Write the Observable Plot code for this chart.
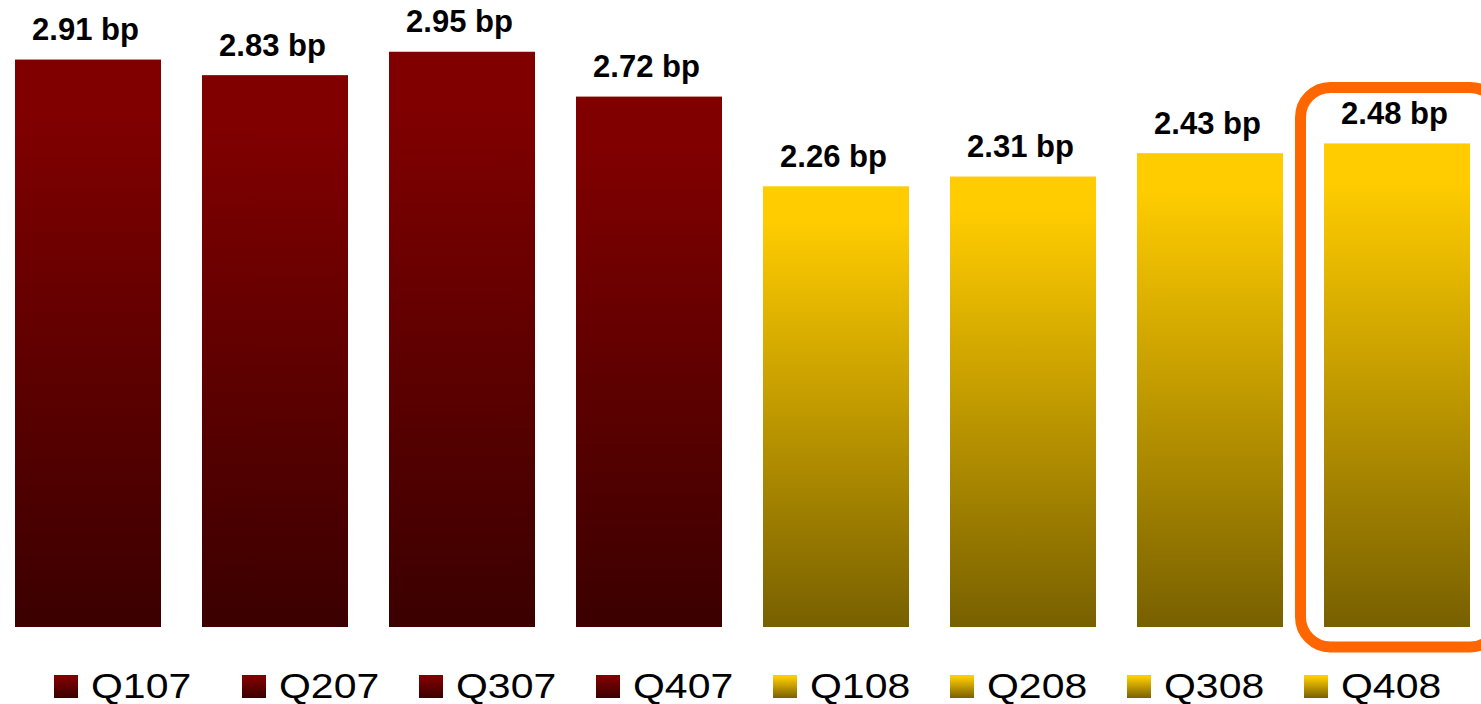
<!DOCTYPE html>
<html>
<head>
<meta charset="utf-8">
<script src="https://cdn.jsdelivr.net/npm/d3@7"></script>
<script src="https://cdn.jsdelivr.net/npm/@observablehq/plot@0.6"></script>
<style>
  html, body { margin: 0; padding: 0; background: #fff; overflow: hidden; }
  body { font-family: "Liberation Sans", Arial, sans-serif; }
  #wrap { position: relative; width: 1481px; height: 704px; }
  #chart svg { overflow: visible; display: block; }
  #legend { position: absolute; left: 54px; top: 668px; display: flex; align-items: center; }
  .item { display: flex; align-items: center; width: 177px; }
  .item:first-child { width: 188px; }
  .sw { width: 24px; height: 23px; margin-right: 13px; flex: none; }
  .lbl { font-size: 35px; line-height: 36px; color: #000; display: inline-block; transform: scaleX(1.17); transform-origin: left center; }
</style>
</head>
<body>
<div id="wrap">
  <div id="chart"></div>
  <div id="legend"></div>
</div>
<script>
// ---- data ----
const quarters = ["Q107", "Q207", "Q307", "Q407", "Q108", "Q208", "Q308", "Q408"];
const values   = [2.91, 2.83, 2.95, 2.72, 2.26, 2.31, 2.43, 2.48];
const years    = ["2007", "2007", "2007", "2007", "2008", "2008", "2008", "2008"];
const unit     = "bp";
const highlighted = ["Q408"];

// ---- colours ----
const gradients = {
  "2007": {id: "grad2007", stops: [[0, "#800000"], [0.1, "#800000"], [1, "#3b0000"]]},
  "2008": {id: "grad2008", stops: [[0, "#ffcc00"], [0.08, "#ffcc00"], [1, "#786000"]]}
};

const data = quarters.map((q, i) => ({quarter: q, value: values[i], year: years[i]}));

const plot = Plot.plot({
  width: 1481,
  height: 656,
  marginLeft: 13,
  marginRight: 9.5,
  marginTop: 3,
  marginBottom: 29,
  x: {domain: quarters, paddingInner: 0.2213, paddingOuter: 0, axis: null},
  y: {domain: [0, 3.2], axis: null},
  marks: [
    Plot.barY(data.filter(d => d.year === "2007"), {x: "quarter", y: "value", fill: "url(#grad2007)"}),
    Plot.barY(data.filter(d => d.year === "2008"), {x: "quarter", y: "value", fill: "url(#grad2008)"}),
    Plot.text(data, {
      x: "quarter", y: "value",
      text: d => `${d.value.toFixed(2)} ${unit}`,
      dy: -30, dx: -3, lineAnchor: "middle",
      fontSize: 31, fontWeight: "bold", fill: "#000",
      fontFamily: "Liberation Sans, Arial, sans-serif"
    }),
    Plot.barY(data.filter(d => highlighted.includes(d.quarter)), {
      x: "quarter", y: "value",
      fill: "none", stroke: "#ff6600", strokeWidth: 11,
      rx: 30, ry: 30,
      insetLeft: -23.5, insetRight: -30, insetTop: -56, insetBottom: -20,
      className: "hl"
    })
  ]
});

// gradient definitions
const ns = "http://www.w3.org/2000/svg";
const defs = document.createElementNS(ns, "defs");
for (const g of Object.values(gradients)) {
  const lg = document.createElementNS(ns, "linearGradient");
  lg.setAttribute("id", g.id);
  lg.setAttribute("x1", "0"); lg.setAttribute("y1", "0");
  lg.setAttribute("x2", "0"); lg.setAttribute("y2", "1");
  for (const [o, c] of g.stops) {
    const s = document.createElementNS(ns, "stop");
    s.setAttribute("offset", o);
    s.setAttribute("stop-color", c);
    lg.appendChild(s);
  }
  defs.appendChild(lg);
}
plot.insertBefore(defs, plot.firstChild);
plot.querySelectorAll(".hl rect").forEach(r => { r.setAttribute("rx", 30); r.setAttribute("ry", 30); });

document.getElementById("chart").appendChild(plot);

// legend
const legend = document.getElementById("legend");
for (let i = 0; i < quarters.length; i++) {
  const g = gradients[years[i]];
  const css = `linear-gradient(to bottom, ${g.stops.map(([o, c]) => `${c} ${o * 100}%`).join(", ")})`;
  const item = document.createElement("div");
  item.className = "item";
  item.innerHTML = `<div class="sw" style="background:${css}"></div><span class="lbl">${quarters[i]}</span>`;
  legend.appendChild(item);
}
</script>
</body>
</html>
